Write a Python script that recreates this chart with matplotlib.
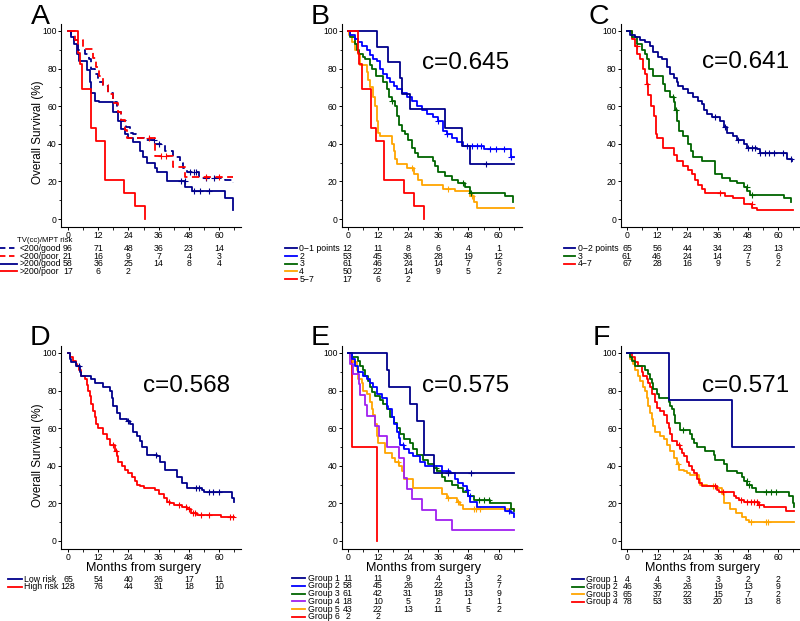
import numpy as np
import matplotlib
matplotlib.use("Agg")
import matplotlib.pyplot as plt
import matplotlib.transforms as mtransforms
from matplotlib.lines import Line2D

plt.rcParams['font.family'] = ['Liberation Sans', 'DejaVu Sans']

NAVY, BLUE, GREEN, ORANGE, RED, PURPLE = '#00008B', '#0000FF', '#006400', '#FFA500', '#FF0000', '#A020F0'

# ---------------- data (months, survival %) ----------------
# A: TV(cc)/MPT risk
a_sg_t = [0, 1, 2.5, 4, 6.6, 8.4, 9.3, 10.6, 12, 13.9, 15.9, 18, 19.3, 21.2, 23.2, 24.6, 25.9, 27.2, 30, 34.5, 38.5, 41.8, 44.5, 45.8, 47.2, 52, 62.5, 65.7]
a_sg_s = [100, 97, 95, 90, 88, 85, 80, 77, 73, 71, 67, 62, 57, 52, 49, 46, 45, 43, 42, 40, 36, 33, 30, 27, 25, 22, 21, 19]
a_sg_c = [34, 36, 48.5, 50, 51, 55, 58]
a_sp_t = [0, 2.6, 5.9, 10, 11, 12.5, 14, 16, 18, 20, 21, 22.5, 23.5, 34.5, 41.8, 46.5, 65.5]
a_sp_s = [100, 95.2, 90.5, 85.7, 81, 76.2, 71.4, 66.7, 61.9, 57.1, 52.4, 47.6, 42.9, 33.3, 27.8, 22.2, 22.2]
a_sp_c = [32, 37, 39, 55, 60]
a_lg_t = [0, 1.3, 2.5, 3.5, 4.5, 7.6, 8.6, 9.3, 10.6, 12.3, 17.9, 19.9, 21.2, 22.6, 23.9, 25.9, 28.5, 29.9, 31.2, 34.5, 35.2, 39.2, 46.5, 49.1, 62.4, 65.4]
a_lg_s = [100, 97, 93, 88, 84, 79, 73, 67, 63, 62, 57, 52, 48, 45, 43, 41, 36, 33, 30, 27, 25, 20, 17, 15, 11, 5]
a_lg_c = [45, 46.3, 50, 52.5, 56]
poor_t = [0, 4, 4.6, 5.7, 9.3, 11.3, 14.6, 22.2, 26.5, 30.5]
poor_s = [100, 88.2, 82.4, 69, 48.3, 41.4, 20.7, 13.8, 6.9, 0]

# B: points 0-1, 2, 3, 4, 5-7
b1_t = [0, 11.8, 16.2, 20.8, 21.5, 24.8, 38.8, 45.4, 48.7, 66]
b1_s = [100, 91.7, 83.3, 75, 66.7, 58.3, 48.6, 38.9, 29.2, 29.2]
b1_c = [55]
b2_t = [0, 1, 2.9, 4.2, 5.6, 7.6, 8.9, 10.2, 11.5, 12.9, 14.2, 15.5, 16.9, 18.2, 19.5, 21.5, 23.5, 25.5, 27.5, 29.5, 31.5, 34, 36, 38, 39.4, 41.4, 43.4, 46, 54, 64.7, 66]
b2_s = [100, 98, 96, 94, 92, 90, 87, 85, 84, 80, 77, 75, 73, 71, 69, 67, 65, 63, 60, 58, 56, 54, 52, 47, 45, 43, 41, 39, 37, 33, 33]
b2_c = [36, 39.5, 47.5, 49.5, 51.5, 53, 56.5, 59, 62, 65]
b3_t = [0, 1, 2.9, 3.5, 4.5, 6, 7, 9, 9.5, 11.2, 14.2, 15.5, 16.5, 17.5, 18.9, 19.6, 20.5, 21.5, 22.8, 24, 25.4, 26.8, 28.1, 34, 34.8, 36, 38.8, 41.4, 44, 46.7, 48.5, 62.7, 65.5]
b3_s = [100, 97, 93, 90, 88, 86, 85, 82, 80, 76, 73, 69, 65, 63, 60, 55, 50, 47, 45, 42, 38, 35, 33, 31, 28, 25, 23, 21, 19, 17, 14, 12, 9]
b3_c = [17.8, 46, 49]
b4_t = [0, 0.7, 1.6, 2.9, 4.2, 4.9, 7.6, 8.2, 9, 10.2, 10.9, 11.5, 11.8, 12.2, 12.9, 17.5, 18.2, 18.9, 19.5, 23.5, 26.2, 28, 29.5, 38, 42.5, 48.7, 50, 51.4, 66]
b4_s = [100, 98, 94, 90, 88, 82, 78, 74, 70, 65, 60, 56, 52, 46, 44, 40, 36, 32, 29, 27, 24, 21, 18, 16, 15, 12, 9, 6, 6]
b4_c = [25.5, 40, 49.5]

# C: points 0-2, 3, 4-7
c1_t = [0, 1.2, 3.2, 5.2, 7.2, 9.2, 10.5, 12.5, 13.8, 15.8, 17.1, 18.5, 19.8, 20.4, 22.4, 24.4, 26.4, 28.4, 29.7, 30.4, 31.7, 33.7, 37, 38.4, 39.7, 42.3, 43.7, 46.3, 47.6, 51.6, 53, 63.6, 65.5]
c1_s = [100, 98, 97, 95, 94, 92, 89, 86, 85, 81, 77, 75, 73, 71, 69, 67, 65, 63, 61, 58, 56, 54, 52, 49, 46, 44, 42, 40, 38, 37, 35, 32, 31]
c1_c = [35, 39, 44, 48, 49.5, 51, 53, 55, 56.5, 58.5, 62, 65]
c2_t = [0, 1.9, 3.9, 5.8, 7.2, 8.1, 8.9, 10.5, 14.5, 15.2, 16.9, 18.5, 19.1, 19.8, 20.8, 22.4, 24.4, 25.4, 26.4, 29.7, 35, 37.7, 41, 43.7, 46.3, 47.6, 49, 62.3, 65.3]
c2_s = [100, 97, 93, 90, 88, 85, 80, 76, 72, 68, 65, 62, 58, 52, 47, 44, 40, 36, 33, 31, 24, 22, 20, 19, 17, 15, 13, 11, 9]
c2_c = [18.2, 19.5, 47.5, 49.5]
c3_t = [0, 1.9, 3.2, 4.1, 5.2, 6.5, 7.2, 7.8, 8.5, 9.4, 10.7, 11.4, 11.8, 14.5, 18.5, 19.8, 22.4, 24.4, 25.8, 27, 28.4, 29.7, 31, 39, 42.3, 46.3, 49.6, 51.6, 66]
c3_s = [100, 96, 92, 88, 85, 80, 77, 72, 66, 60, 55, 45, 43, 38, 34, 31, 28, 26, 24, 21, 18, 16, 14, 12, 11, 8, 6, 5, 5]
c3_c = [4, 8, 37, 49.5]

# D: low / high risk
d1_t = [0, 0.7, 1.3, 3.3, 4.7, 5.3, 9.3, 10.7, 14, 16.7, 17.3, 18, 19.3, 20.7, 23.3, 24.7, 26, 27.3, 28.7, 29.3, 31.3, 35.3, 36.7, 38.7, 43.3, 45.3, 47.3, 53.3, 54, 65.3, 66]
d1_s = [100, 97, 95, 93, 90, 88, 86, 84, 82, 80, 76, 72, 68, 65, 64, 62, 58, 56, 53, 50, 46, 45, 42, 38, 34, 31, 28, 27, 26, 23, 21]
d1_c = [4.5, 24, 35, 51, 52, 56, 57.5, 60]
d2_t = [0, 0.9, 2, 3, 3.6, 4.4, 5.3, 6.7, 7.6, 8, 8.7, 9.3, 10, 10.7, 11.3, 12, 14, 15.3, 16.7, 18.7, 19.3, 20, 21.3, 22.7, 24, 25.3, 26.7, 27.3, 28.7, 30, 34.7, 36, 38, 39.3, 40.7, 42, 45.3, 47.3, 48.7, 51.3, 60.7, 66]
d2_s = [100, 98, 96, 94, 93, 91, 88, 86, 83, 80, 77, 73, 69, 66, 62, 60, 57, 54, 51, 48, 45, 42, 40, 38, 36, 34, 32, 30, 29, 28, 27, 25, 23, 21, 20, 19, 18, 17, 15, 14, 13, 13]
d2_c = [18, 19, 40, 44, 47, 48, 49.5, 50.5, 53, 56, 64.5, 65.5]

# E: groups 1-6
e1_t = [0, 15.5, 16.6, 24.8, 27.5, 30.4, 34.1, 66]
e1_s = [100, 90.9, 81.8, 72.7, 63.6, 45.5, 36.4, 36.4]
e1_c = [40, 49]
e2_t = [0, 1.6, 2.9, 4.2, 6.2, 7.5, 8.9, 10.2, 11.5, 13.5, 15.5, 16.2, 17.5, 18.2, 19.5, 20.2, 20.8, 22.2, 24.2, 26.1, 28.8, 30.8, 37.4, 40.8, 42.7, 44, 46, 47.4, 48, 48.7, 51.4, 62.7, 64.7, 66]
e2_s = [100, 97, 93, 90, 88, 86, 84, 82, 78, 76, 72, 70, 66, 62, 58, 55, 51, 49, 47, 45, 42, 40, 37, 36, 33, 31, 29, 27, 24, 21, 18, 16, 15, 13]
e2_c = [22, 40, 47.5, 48.5, 64]
e3_t = [0, 1.6, 4.2, 4.9, 6.2, 6.9, 8.2, 8.9, 9.6, 10.9, 12.9, 14.2, 15.5, 16.9, 18.2, 19.5, 20.8, 22.2, 24.8, 26.1, 27.5, 30.1, 32.1, 34.1, 35.4, 37.4, 38.8, 41.4, 44, 46, 48, 50, 56.7, 64.7, 66]
e3_s = [100, 98, 96, 93, 91, 88, 85, 82, 79, 77, 75, 73, 70, 66, 63, 60, 57, 54, 52, 49, 46, 43, 41, 39, 37, 34, 32, 30, 28, 26, 24, 22, 20, 17, 16]
e3_c = [35, 52, 54, 56]
e4_t = [0, 0.9, 2.3, 4.5, 5, 7, 7.8, 11, 12.5, 15.5, 20.2, 22.2, 23.5, 25.5, 29.5, 35.2, 41.4, 66]
e4_s = [100, 94.4, 88.9, 83.3, 77.8, 72.2, 66.7, 61.1, 55.6, 50, 44.4, 33.3, 27.8, 22.2, 16.7, 11.1, 5.6, 5.6]
e4_c = []
e5_t = [0, 0.9, 2.3, 3.6, 4.2, 5.6, 6.2, 7.6, 8.9, 9.6, 10.2, 10.9, 11.5, 12, 14.9, 17.5, 18.8, 20.2, 21.5, 22.2, 26.1, 37.4, 39.4, 43.4, 44.7, 46, 66]
e5_s = [100, 98, 95, 91, 86, 84, 80, 78, 74, 70, 67, 62, 56, 52, 47, 44, 42, 40, 37, 33, 28, 25, 23, 21, 19, 17, 17]
e5_c = [20, 40, 44, 50, 51, 52.5]
e6_t = [0, 1.6, 11.5]
e6_s = [100, 50, 0]

# F: groups 1-4
f1_t = [0, 16.4, 41.7, 66.4]
f1_s = [100, 75, 50, 50]
f2_t = [0, 1.1, 1.7, 3.1, 7.1, 8.4, 9.1, 9.7, 10.4, 11.7, 12.4, 16.4, 17.1, 17.7, 18.4, 19.1, 21.1, 25, 25.7, 26.4, 27.7, 31, 34.4, 35, 38.4, 39.7, 43.7, 45.7, 46.4, 47.7, 49.7, 51, 64.4, 65.7, 66.4]
f2_s = [100, 98, 96, 93, 91, 89, 86, 84, 81, 78, 76, 74, 72, 70, 67, 63, 59, 57, 54, 52, 50, 48, 46, 43, 41, 37, 36, 34, 32, 30, 28, 26, 24, 20, 18]
f2_c = [22, 47.5, 48.5, 55, 57, 59]
f3_t = [0, 1.1, 2.4, 3.1, 4.4, 5, 6.4, 7.1, 7.7, 8.4, 9.1, 9.7, 10.4, 11.1, 13.1, 14.4, 15.7, 17.1, 18.4, 19.7, 20.4, 22.4, 23.7, 25, 28.4, 29, 31.7, 35.7, 37.7, 38.4, 41, 43, 45.7, 47, 48.4, 66.4]
f3_s = [100, 97, 94, 91, 88, 85, 82, 80, 76, 72, 68, 65, 61, 58, 56, 54, 51, 48, 44, 41, 38, 37, 36, 35, 33, 30, 29, 28, 25, 20, 17, 15, 13, 11, 10, 10]
f3_c = [20, 34, 49, 55, 56]
f4_t = [0, 1.7, 3.1, 4.4, 5.7, 6.4, 7.7, 8.4, 9.1, 9.7, 11.1, 11.7, 13.1, 14.4, 15.7, 16.4, 17.1, 17.7, 19.7, 21.1, 21.7, 22.4, 23.7, 24.4, 25.7, 26.4, 27.7, 28.4, 29.7, 35.7, 36.4, 42.4, 43, 44.4, 46.4, 52.4, 54.4, 63, 66.4]
f4_s = [100, 98, 95, 93, 90, 88, 86, 84, 82, 78, 74, 71, 69, 67, 63, 60, 57, 53, 51, 49, 47, 45, 42, 40, 38, 36, 33, 31, 29, 27, 26, 24, 23, 22, 21, 19, 18, 16, 16]
f4_c = [20.5, 35, 38, 45, 47.5, 49, 50.5, 51.5, 52.5]

# numbers at risk (at 0, 12, 24, 36, 48, 60 months)
risk_times = [0, 12, 24, 36, 48, 60]
a_labels = ['<200/good', '<200/poor', '>200/good', '>200/poor']
a_risk = [[96, 71, 48, 36, 23, 14], [21, 16, 9, 7, 4, 3], [58, 36, 25, 14, 8, 4], [17, 6, 2]]
b_labels = ['0\u22121 points', '2', '3', '4', '5\u22127']
b_risk = [[12, 11, 8, 6, 4, 1], [53, 45, 36, 28, 19, 12], [61, 46, 24, 14, 7, 6], [50, 22, 14, 9, 5, 2], [17, 6, 2]]
c_labels = ['0\u22122 points', '3', '4\u22127']
c_risk = [[65, 56, 44, 34, 23, 13], [61, 46, 24, 14, 7, 6], [67, 28, 16, 9, 5, 2]]
d_labels = ['Low risk', 'High risk']
d_risk = [[65, 54, 40, 26, 17, 11], [128, 76, 44, 31, 18, 10]]
e_labels = ['Group 1', 'Group 2', 'Group 3', 'Group 4', 'Group 5', 'Group 6']
e_risk = [[11, 11, 9, 4, 3, 2], [58, 45, 26, 22, 13, 7], [61, 42, 31, 18, 13, 9], [18, 10, 5, 2, 1, 1], [43, 22, 13, 11, 5, 2], [2, 2]]
f_labels = ['Group 1', 'Group 2', 'Group 3', 'Group 4']
f_risk = [[4, 4, 3, 3, 2, 2], [46, 36, 26, 19, 13, 9], [65, 37, 22, 15, 7, 2], [78, 53, 33, 20, 13, 8]]

c_index = {'B': 'c=0.645', 'C': 'c=0.641', 'D': 'c=0.568', 'E': 'c=0.575', 'F': 'c=0.571'}

# ---------------- figure ----------------
W, H = 800, 621
fig = plt.figure(figsize=(W / 100, H / 100), dpi=100)
PXM = 151 / 60.0  # pixels per month


def fx(px):
    return px / W


def fy(py):
    return 1 - py / H


def make_axes(left, zero, top):
    ax = fig.add_axes([fx(left), fy(top + 203), 180 / W, 203 / H])
    ax.set_xlim((left - zero) / PXM, (left + 180 - zero) / PXM)
    ax.set_ylim(-8 / 1.88, 100 + 7 / 1.88)
    for s in ['top', 'right']:
        ax.spines[s].set_visible(False)
    for s in ['left', 'bottom']:
        ax.spines[s].set_linewidth(0.8)
    ax.set_xticks(risk_times)
    ax.set_xticks([6, 18, 30, 42, 54, 66], minor=True)
    ax.set_yticks([0, 20, 40, 60, 80, 100])
    ax.set_yticks([10, 30, 50, 70, 90], minor=True)
    ax.tick_params(which='major', direction='out', length=2.5, width=0.7, labelsize=6.2, pad=0.5)
    ax.tick_params(which='minor', direction='out', length=1.8, width=0.6)
    return ax


def curve(ax, t, s, color, cens=(), dashed=False):
    kw = dict(dashes=(4, 2.5)) if dashed else {}
    ax.step(t, s, where='post', color=color, lw=1.3, **kw)
    if len(cens):
        t = np.asarray(t)
        s = np.asarray(s)
        idx = np.searchsorted(t, cens, side='right') - 1
        ax.plot(cens, s[idx], ls='none', marker='+', ms=5, mew=0.8, color=color)


def risk_table(ax, rows_y, line_x0, line_x1, labels, risk, colors, dashed=None):
    trans = mtransforms.blended_transform_factory(ax.transData, fig.transFigure)
    for i, (y, lab, vals, col) in enumerate(zip(rows_y, labels, risk, colors)):
        ls = (0, (3, 2)) if dashed and dashed[i] else '-'
        fig.add_artist(Line2D([fx(line_x0), fx(line_x1)], [fy(y), fy(y)], transform=fig.transFigure,
                              color=col, lw=1.3, ls=ls))
        fig.text(fx(line_x1 + 2.5), fy(y), lab, fontsize=6.3, va='center', ha='left')
        for tt, v in zip(risk_times, vals):
            ax.text(tt, fy(y), str(v), transform=trans, fontsize=6.3, va='center', ha='center', clip_on=False)


# panel A
axA = make_axes(61, 68, 24)
curve(axA, a_lg_t, a_lg_s, NAVY, a_lg_c)
curve(axA, poor_t, poor_s, RED)
curve(axA, a_sg_t, a_sg_s, NAVY, a_sg_c, dashed=True)
curve(axA, a_sp_t, a_sp_s, RED, a_sp_c, dashed=True)
fig.text(fx(17), fy(241), 'TV(cc)/MPT risk', fontsize=5.6, va='center', ha='left')
risk_table(axA, [248.3, 256, 263.7, 271.3], 0, 17, a_labels, a_risk, [NAVY, RED, NAVY, RED],
           dashed=[True, True, False, False])

# panel B
axB = make_axes(341.7, 347.7, 24)
curve(axB, b4_t, b4_s, ORANGE, b4_c)
curve(axB, b3_t, b3_s, GREEN, b3_c)
curve(axB, b2_t, b2_s, BLUE, b2_c)
curve(axB, b1_t, b1_s, NAVY, b1_c)
curve(axB, poor_t, poor_s, RED)
risk_table(axB, [248.3, 256, 263.7, 271.3, 279], 285, 296.7, b_labels, b_risk, [NAVY, BLUE, GREEN, ORANGE, RED])

# panel C
axC = make_axes(620.7, 627, 24)
curve(axC, c3_t, c3_s, RED, c3_c)
curve(axC, c2_t, c2_s, GREEN, c2_c)
curve(axC, c1_t, c1_s, NAVY, c1_c)
risk_table(axC, [248.3, 256, 263.7], 564, 575, c_labels, c_risk, [NAVY, GREEN, RED])

# panel D
axD = make_axes(61, 68, 346)
curve(axD, d2_t, d2_s, RED, d2_c)
curve(axD, d1_t, d1_s, NAVY, d1_c)
risk_table(axD, [579.3, 586.7], 8, 22, d_labels, d_risk, [NAVY, RED])

# panel E
axE = make_axes(341.7, 347.7, 346)
curve(axE, e6_t, e6_s, RED)
curve(axE, e5_t, e5_s, ORANGE, e5_c)
curve(axE, e4_t, e4_s, PURPLE, e4_c)
curve(axE, e3_t, e3_s, GREEN, e3_c)
curve(axE, e2_t, e2_s, BLUE, e2_c)
curve(axE, e1_t, e1_s, NAVY, e1_c)
risk_table(axE, [578.3, 586, 593.7, 601.3, 609, 616.7], 291.7, 305, e_labels, e_risk,
           [NAVY, BLUE, GREEN, PURPLE, ORANGE, RED])

# panel F
axF = make_axes(621, 627.3, 346)
curve(axF, f3_t, f3_s, ORANGE, f3_c)
curve(axF, f4_t, f4_s, RED, f4_c)
curve(axF, f2_t, f2_s, GREEN, f2_c)
curve(axF, f1_t, f1_s, NAVY)
risk_table(axF, [579.3, 586.7, 594.3, 602], 571.7, 584, f_labels, f_risk, [NAVY, GREEN, ORANGE, RED])

# labels and annotations
for ax, y in [(axA, 132), (axD, 455)]:
    fig.text(fx(38), fy(y), 'Overall Survival (%)', fontsize=8.5, rotation=90, va='center', ha='center')
for ax in [axD, axE, axF]:
    tr = mtransforms.blended_transform_factory(ax.transData, fig.transFigure)
    ax.text(30, fy(570.7), 'Months from surgery', transform=tr, fontsize=9, ha='center', va='baseline')

letters = [('A', 31, 24), ('B', 311, 24), ('C', 589, 24), ('D', 30, 345), ('E', 311, 345), ('F', 593, 345)]
for lab, x, y in letters:
    fig.text(fx(x), fy(y), lab, fontsize=20.5, ha='left', va='baseline')

cpos = {'B': (422, 69), 'C': (702, 68), 'D': (143, 392), 'E': (422, 392), 'F': (702, 392)}
for k, (x, y) in cpos.items():
    fig.text(fx(x), fy(y), c_index[k], fontsize=17.5, ha='left', va='baseline')

fig.savefig('out.png', dpi=100)
